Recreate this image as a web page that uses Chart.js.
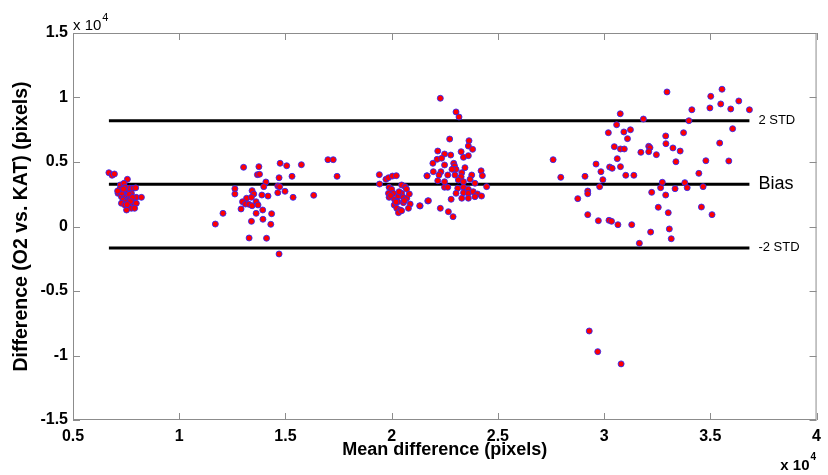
<!DOCTYPE html>
<html>
<head>
<meta charset="utf-8">
<script src="https://cdn.jsdelivr.net/npm/chart.js@4/dist/chart.umd.min.js"></script>
<style>
  body{margin:0;background:#fff;}
  #chart{display:block;}
</style>
</head>
<body>
<canvas id="chart" width="828" height="475"></canvas>
<script>
//Datos: media de las dos medidas (x) y diferencia O2 - KAT (y)
var meanDiff = [
  6690,6840,6950,7560,7230,7400,7120,7200,7360,7520,7670,7830,7280,7440,7590,7750,7980,8220,7360,7520,
  7670,7830,7980,7280,7590,7750,7520,7900,7440,7300,7450,7650,7800,7700,7380,7100,7950,7550,
  11700,12060,12620,12620,13030,13750,13680,13780,14750,15060,15750,17000,17250,17430,14700,15310,14080,13980,14640,14730,
  14640,14980,15360,16330,13430,13510,13170,13400,13890,14180,12980,13120,13280,13430,13620,13710,12910,13620,13930,14350,
  13400,13940,14310,13290,14110,14700,
  19420,19430,19730,19850,20040,20220,19880,20000,20470,20630,19850,20080,19880,20130,20320,20470,20550,20710,20830,20290,
  20550,20870,20120,20240,20400,20320,20470,20790,21340,21700,21660,20200,20600,20350,19950,20700,
  22290,23030,23170,21320,21730,22290,22670,22890,21670,22730,23640,23610,23810,22170,22490,22780,23270,23380,23610,21940,
  22140,22350,22490,22920,22960,23030,22840,23450,21960,22320,22230,22640,22980,23300,23270,23770,24210,24270,22170,22490,
  23140,23380,23690,23920,22490,22640,23110,23380,23610,24470,23380,23610,23840,24040,24230,23300,23610,23920,23030,22800,
  27600,27960,29100,29230,29230,28760,29230,29730,30230,30350,30650,31300,31660,29620,29850,29940,29790,30260,30380,30770,
  31020,31400,30620,30480,30770,30950,30200,30590,30760,30930,31240,31100,31850,31730,32100,32160,32100,32460,32240,32900,
  32660,32740,33340,32550,33020,33070,33160,32190,32900,32910,32960,33240,33580,33380,33740,33990,34130,33800,33910,34660,
  34460,34790,34580,35080,35440,35870,36050,34980,35020,35490,35550,35960,36340,36840,29300,29700,30800
];
var diffVals = [
  4170,3970,4070,3660,3220,3350,2570,2880,2700,2830,2960,2960,2310,2360,2440,2570,2260,2260,2050,1920,
  2110,1850,1800,1800,1530,1410,1280,1410,1670,2600,3050,2500,2250,1950,2900,2750,3000,1700,
  190,1020,2930,2520,4590,4640,4020,4050,4900,4710,4790,5180,5180,3890,3780,3890,3450,3090,3140,3090,
  2620,2730,2260,2420,2780,2520,2190,2260,2440,2360,1920,1740,1720,1610,1920,1670,1360,1020,1280,990,
  400,560,170,-890,-910,-2130,
  4020,3290,3660,3780,3910,3940,3040,2880,3220,3090,2570,2570,2260,2110,2360,2570,2260,2190,2520,1920,
  1850,1740,1670,1410,1280,1070,1220,1410,1590,1980,3940,1900,2000,2700,2400,2900,
  9940,8880,8490,1610,2000,1410,1150,760,3910,6780,6650,6240,5980,5850,5620,5540,5800,5360,5490,4900,
  5210,5290,4770,4900,4690,4430,4430,4560,4250,4250,3990,3990,3990,4170,3860,3990,4320,3940,3550,3470,
  3600,3470,3660,3350,3040,3040,2960,3040,2880,3090,2620,2570,2700,2520,2360,2190,2190,2310,2570,2110,
  5180,3810,3890,2750,2540,2160,920,450,480,400,140,140,-1300,4840,4250,3630,3090,4610,4510,4640,
  3970,3970,5260,6190,6010,6010,7270,7890,8740,7330,7500,6810,8330,5750,6220,6110,5800,5570,2650,2440,
  3010,3430,2930,1490,1070,-190,-950,-430,7020,6420,10430,6090,5850,5020,7270,8200,9050,3400,3010,3090,
  4120,5100,1510,920,6470,5080,7580,9190,10090,9500,10640,9110,9730,9050,-8100,-9700,-10650
];
//Lineas de sesgo y limites
var bias = 3270;
var upperLimit = 8200;
var lowerLimit = -1660;
var lineValues = [upperLimit, bias, lowerLimit];
var lineLabels = ['2 STD', 'Bias', '-2 STD'];
//Ejes
var xMin = 5000, xMax = 40000, xStep = 5000;
var yMin = -15000, yMax = 15000, yStep = 5000;
var tickScale = 10000;

var fontFam = "'Liberation Sans Narrow', 'Liberation Sans', Arial, sans-serif";
var plainFam = "'Liberation Sans', Arial, sans-serif";

var points = meanDiff.map(function(v, i){ return {x: v, y: diffVals[i]}; });
var lineStart = Math.min.apply(null, meanDiff);
var lineEnd = Math.max.apply(null, meanDiff);

function hLine(val){
  return {
    data: [{x: lineStart, y: val}, {x: lineEnd, y: val}],
    showLine: true,
    borderColor: '#000',
    borderWidth: 3,
    pointRadius: 0,
    order: 1
  };
}

//Caja y marcas hacia dentro (estilo matlab)
var boxPlugin = {
  id: 'boxTicks',
  beforeDatasetsDraw: function(chart){
    var ctx = chart.ctx, a = chart.chartArea;
    var xs = chart.scales.x, ys = chart.scales.y;
    ctx.save();
    ctx.strokeStyle = '#8c8c8c';
    ctx.lineWidth = 1;
    ctx.strokeRect(a.left + 0.5, a.top + 0.5, a.right - a.left - 1, a.bottom - a.top - 1);
    ctx.beginPath();
    xs.ticks.forEach(function(t){
      var px = Math.round(xs.getPixelForValue(t.value)) + 0.5;
      ctx.moveTo(px, a.bottom); ctx.lineTo(px, a.bottom - 7);
      ctx.moveTo(px, a.top); ctx.lineTo(px, a.top + 7);
    });
    ys.ticks.forEach(function(t){
      var py = Math.round(ys.getPixelForValue(t.value)) + 0.5;
      ctx.moveTo(a.left, py); ctx.lineTo(a.left + 7, py);
      ctx.moveTo(a.right, py); ctx.lineTo(a.right - 7, py);
    });
    ctx.stroke();
    ctx.restore();
  },
  afterDraw: function(chart){
    var ctx = chart.ctx, a = chart.chartArea;
    var xs = chart.scales.x, ys = chart.scales.y;
    ctx.save();
    ctx.fillStyle = '#000';
    //etiquetas de las lineas
    ctx.textBaseline = 'middle';
    ctx.textAlign = 'left';
    var lx = xs.getPixelForValue(lineEnd) + 9;
    lineValues.forEach(function(v, i){
      ctx.font = (lineLabels[i] === 'Bias' ? '18px ' : '13px ') + plainFam;
      ctx.fillText(lineLabels[i], lx, ys.getPixelForValue(v));
    });
    //multiplicador eje y
    ctx.textBaseline = 'alphabetic';
    ctx.font = '15px ' + plainFam;
    ctx.fillText('x 10', a.left, a.top - 3);
    var w = ctx.measureText('x 10').width;
    ctx.font = '11px ' + plainFam;
    ctx.fillText('4', a.left + w + 1, a.top - 12);
    //multiplicador eje x
    ctx.font = 'bold 15px ' + fontFam;
    ctx.textAlign = 'right';
    ctx.fillText('x 10', a.right - 7, 470);
    ctx.font = 'bold 10px ' + fontFam;
    ctx.textAlign = 'left';
    ctx.fillText('4', a.right - 6, 460);
    ctx.restore();
  }
};

var config = {
  type: 'scatter',
  data: {
    datasets: [
      {
        data: points,
        backgroundColor: '#ff0000',
        borderColor: 'rgba(40,40,255,0.85)',
        borderWidth: 1,
        pointRadius: 3,
        order: 0
      },
      hLine(upperLimit),
      hLine(bias),
      hLine(lowerLimit)
    ]
  },
  options: {
    responsive: false,
    animation: false,
    devicePixelRatio: 1,
    layout: { padding: { top: 33, right: 8, left: 0, bottom: 0 } },
    plugins: { legend: { display: false }, tooltip: { enabled: false } },
    scales: {
      x: {
        type: 'linear',
        position: 'bottom',
        min: xMin, max: xMax,
        afterFit: function(s){ s.height = 55; },
        grid: { display: false, drawTicks: false },
        border: { display: false },
        ticks: {
          stepSize: xStep,
          autoSkip: false,
          maxRotation: 0,
          padding: 7,
          color: '#000',
          font: { family: fontFam, size: 16, weight: 'bold' },
          callback: function(v){ return String(v / tickScale); }
        },
        title: {
          display: true,
          text: 'Mean difference (pixels)',
          color: '#000',
          font: { family: fontFam, size: 18, weight: 'bold' },
          padding: { top: 0, bottom: 14 }
        }
      },
      y: {
        type: 'linear',
        min: yMin, max: yMax,
        afterFit: function(s){ s.width = 73; },
        grid: { display: false, drawTicks: false },
        border: { display: false },
        ticks: {
          stepSize: yStep,
          padding: 5,
          color: '#000',
          font: { family: fontFam, size: 16, weight: 'bold' },
          callback: function(v){ return String(v / tickScale); }
        },
        title: {
          display: true,
          text: 'Difference (O2 vs. KAT) (pixels)',
          color: '#000',
          font: { family: fontFam, size: 19.5, weight: 'bold' },
          padding: { top: 10, bottom: 0 }
        }
      }
    }
  },
  plugins: [boxPlugin]
};

var ctx = document.getElementById('chart').getContext('2d');
window.grafico = new Chart(ctx, config);
</script>
</body>
</html>
